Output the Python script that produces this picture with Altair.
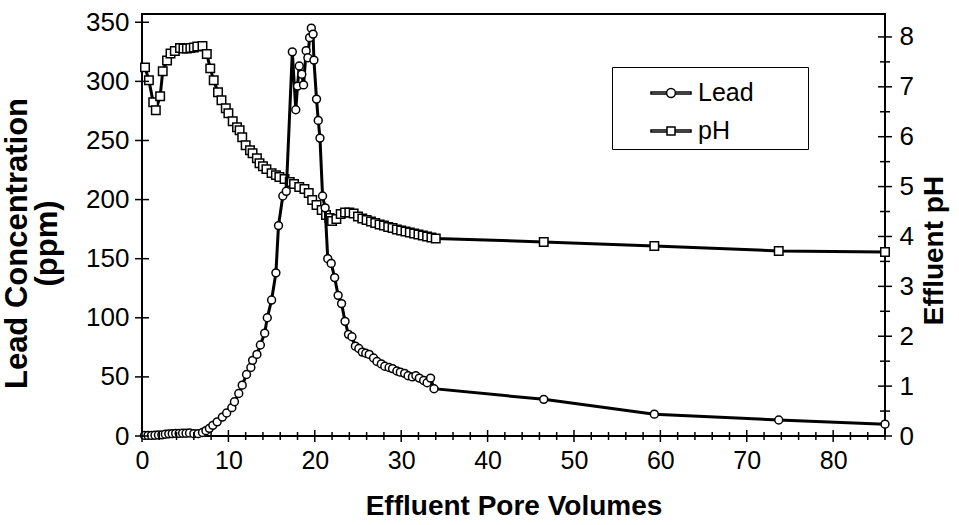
import altair as alt
import pandas as pd

# ---- data ----
PH_X = [0.35, 0.8, 1.3, 1.6, 2.1, 2.4, 2.9, 3.3, 3.8, 4.4, 4.8, 5.2, 5.6, 6.0, 6.4, 7.0,
        7.5, 7.9, 8.3, 8.8, 9.2, 9.7, 10.0, 10.5, 11.0, 11.3,
        11.6, 12.0, 12.5, 12.8, 13.3, 13.6, 14.0, 14.4, 15.0, 15.5,
        15.9, 16.5, 17.1, 17.6, 18.2, 18.8, 19.3, 19.7, 20.2, 20.8,
        21.3, 21.7, 22.0, 22.5, 23.0, 23.5, 24.0, 24.5, 25.0, 25.5,
        26.0, 26.5, 27.0, 27.5, 28.0, 28.5, 29.0, 29.5, 30.0, 30.5,
        31.0, 31.5, 32.0, 32.5, 33.0, 33.5, 34.0,
        46.5, 59.3, 73.7, 86.0]
PH_Y = [7.39, 7.13, 6.69, 6.53, 6.81, 7.31, 7.53, 7.67, 7.72, 7.78, 7.77, 7.77, 7.78, 7.79, 7.81, 7.82,
        7.66, 7.37, 7.13, 6.89, 6.73, 6.57, 6.47, 6.31, 6.19, 6.13,
        5.99, 5.83, 5.73, 5.67, 5.57, 5.47, 5.41, 5.35, 5.27, 5.23,
        5.19, 5.15, 5.09, 5.05, 4.99, 4.95, 4.87, 4.73, 4.63, 4.53,
        4.43, 4.37, 4.31, 4.35, 4.45, 4.48, 4.48, 4.46, 4.40, 4.36,
        4.33, 4.30, 4.27, 4.24, 4.22, 4.19, 4.17, 4.14, 4.12, 4.10,
        4.08, 4.06, 4.04, 4.02, 4.00, 3.98, 3.96,
        3.89, 3.81, 3.71, 3.69]

LEAD_X = [0.3, 0.7, 1.1, 1.5, 1.9, 2.3, 2.7, 3.1, 3.5, 3.9, 4.3, 4.7, 5.1, 5.5,
          6.0, 6.5, 7.0, 7.4, 7.8, 8.2, 8.7, 9.3, 9.8, 10.4,
          10.7, 11.2, 11.6, 12.1, 12.6, 12.8, 13.3, 13.7, 14.2, 14.5,
          15.0, 15.5, 15.8, 16.3, 16.7,
          17.4, 17.8, 18.0, 18.2, 18.5, 18.7, 19.0, 19.2, 19.4, 19.6,
          19.8, 19.9, 20.2, 20.4, 20.6, 20.9, 21.2, 21.5, 21.9, 22.3,
          22.7, 23.1, 23.5, 23.9, 24.3, 24.7, 25.1, 25.5, 25.9, 26.3,
          26.8, 27.2, 27.7, 28.1, 28.6, 29.0, 29.5, 29.9, 30.4, 30.8,
          31.3, 31.7, 32.1, 32.6, 33.0, 33.4, 33.8,
          46.5, 59.3, 73.7, 86.0]
LEAD_Y = [0.5, 0.5, 0.5, 0.6, 0.8, 1.0, 1.5, 1.8, 2.0, 2.2, 2.2, 2.3, 2.3, 2.5,
          2.0, 2.0, 3.0, 4.5, 6.5, 9, 12, 16, 19.5, 24,
          29, 36, 43, 52, 58, 64, 69, 77, 87, 100,
          115, 138, 178, 203, 207,
          325, 276, 296, 313, 306, 297, 326, 320, 337, 345,
          340, 318, 285, 267, 252, 203, 193, 150, 146, 134,
          119, 112, 97, 86, 84, 76, 74, 71, 70, 69,
          66, 63, 61, 59, 58, 57, 55, 54, 53, 51,
          50, 51, 49, 47, 45, 49, 40,
          31, 18.5, 13.5, 10]

LEGEND_LABELS = ["Lead", "pH"]
X_MAJOR = [0, 10, 20, 30, 40, 50, 60, 70, 80]
X_MINOR = [v for v in range(2, 87, 2) if v % 10 != 0]
Y_LEFT_TICKS = [0, 50, 100, 150, 200, 250, 300, 350]
Y_RIGHT_MAJOR = [0, 1, 2, 3, 4, 5, 6, 7, 8]
Y_RIGHT_MINOR = [0.5, 1.5, 2.5, 3.5, 4.5, 5.5, 6.5, 7.5]

# ---- layout / style ----
W, H = 743, 422
FONT = "Liberation Sans, Arial, sans-serif"
# trailing spaces (kept by a zero-width char) widen the legend box like the reference
LABEL_PAD = " " * 7 + "\u200b"

x_scale = alt.Scale(domain=[0, 86], nice=False, zero=False)
left_scale = alt.Scale(domain=[0, 357], nice=False, zero=False)
right_scale = alt.Scale(domain=[0, 8.46], nice=False, zero=False)

ph_df = pd.DataFrame({"x": PH_X, "y": PH_Y})
lead_df = pd.DataFrame({"x": LEAD_X, "y": LEAD_Y})
legend_df = pd.DataFrame({"series": LEGEND_LABELS})

x_axis = alt.Axis(orient="bottom", title="Effluent Pore Volumes", values=X_MAJOR, ticks=False,
                  domain=False, grid=False, labelFont=FONT, labelFontSize=25, labelPadding=12,
                  labelFlush=False, titleFont=FONT, titleFontSize=28, titleFontWeight="bold",
                  titlePadding=19, labelColor="black", titleColor="black")

left_axis = alt.Axis(orient="left", title=["Lead Concentration", "(ppm)"], values=Y_LEFT_TICKS,
                     ticks=False, domain=False, grid=False, labelFont=FONT, labelFontSize=26,
                     labelPadding=13, labelFlush=False, titleFont=FONT, titleFontSize=31,
                     titleFontWeight="bold", titlePadding=22, titleLineHeight=30, titleY=229,
                     labelColor="black", titleColor="black")

right_axis = alt.Axis(orient="right", title="Effluent pH", values=Y_RIGHT_MAJOR,
                      ticks=False, domain=False, grid=False, labelFont=FONT, labelFontSize=26,
                      labelPadding=14, labelFlush=False, titleFont=FONT, titleFontSize=28,
                      titleFontWeight="bold", titlePadding=7, titleAngle=270,
                      titleBaseline="top", titleY=236,
                      labelColor="black", titleColor="black")

ph_layer = alt.Chart(ph_df).mark_line(
    color="black", strokeWidth=3,
    point=alt.OverlayMarkDef(shape="square", filled=True, fill="white", stroke="black",
                             strokeWidth=1.5, size=72, opacity=1),
).encode(
    x=alt.X("x:Q", scale=x_scale, axis=x_axis),
    y=alt.Y("y:Q", scale=right_scale, axis=right_axis),
)

lead_layer = alt.Chart(lead_df).mark_line(
    color="black", strokeWidth=3,
    point=alt.OverlayMarkDef(shape="circle", filled=True, fill="white", stroke="black",
                             strokeWidth=1.5, size=62, opacity=1),
).encode(
    x=alt.X("x:Q", scale=x_scale, axis=None),
    y=alt.Y("y:Q", scale=left_scale, axis=left_axis),
)

def xticks(values, half):
    return alt.Chart(pd.DataFrame({"v": values})).mark_rule(color="black", strokeWidth=1.5).encode(
        x=alt.X("v:Q", scale=x_scale, axis=None),
        y=alt.value(H - half), y2=alt.value(H + half))

def yticks(values, scale, x0, half):
    return alt.Chart(pd.DataFrame({"v": values})).mark_rule(color="black", strokeWidth=1.5).encode(
        y=alt.Y("v:Q", scale=scale, axis=None),
        x=alt.value(x0 - half), x2=alt.value(x0 + half))

LEAD_SYMBOL = ("M-1,-0.05L-0.22,-0.05L-0.22,0.05L-1,0.05Z"
               "M0.22,-0.05L1,-0.05L1,0.05L0.22,0.05Z"
               "M-0.22,0A0.22,0.22 0 1,0 0.22,0A0.22,0.22 0 1,0 -0.22,0Z")
PH_SYMBOL = ("M-1,-0.05L-0.2,-0.05L-0.2,0.05L-1,0.05Z"
             "M0.2,-0.05L1,-0.05L1,0.05L0.2,0.05Z"
             "M-0.2,-0.2L0.2,-0.2L0.2,0.2L-0.2,0.2Z")

legend_layer = alt.Chart(legend_df).mark_point(
    filled=False, color="black", stroke="black", strokeWidth=1.5
).encode(
    shape=alt.Shape("series:N",
                    scale=alt.Scale(domain=LEGEND_LABELS, range=[LEAD_SYMBOL, PH_SYMBOL]),
                    legend=alt.Legend(title=None, orient="none", legendX=470, legendY=53,
                                      strokeColor="black", fillColor="white", padding=5,
                                      symbolOffset=33, symbolSize=1600,
                                      symbolFillColor="white", symbolStrokeColor="black",
                                      symbolStrokeWidth=1.5, symbolOpacity=1,
                                      labelFont=FONT, labelFontSize=25, labelColor="black",
                                      labelOffset=6, rowPadding=4,
                                      labelExpr="datum.label + '" + LABEL_PAD + "'")),
).transform_filter("false")

chart = alt.layer(
    ph_layer,
    lead_layer,
    xticks(X_MAJOR, 6),
    xticks(X_MINOR, 4),
    yticks(Y_LEFT_TICKS, left_scale, 0, 7),
    yticks(Y_RIGHT_MAJOR, right_scale, W, 7),
    yticks(Y_RIGHT_MINOR, right_scale, W, 5),
    legend_layer,
).resolve_scale(y="independent", shape="independent").resolve_axis(
    x="independent", y="independent"
).properties(
    width=W, height=H,
    padding={"left": 142, "top": 14, "right": 74, "bottom": 89},
    autosize=alt.AutoSizeParams(type="none"),
    background="white",
).configure_view(stroke="black", strokeWidth=2)

chart.save("out.html", embed_options={"renderer": "svg", "actions": False})
